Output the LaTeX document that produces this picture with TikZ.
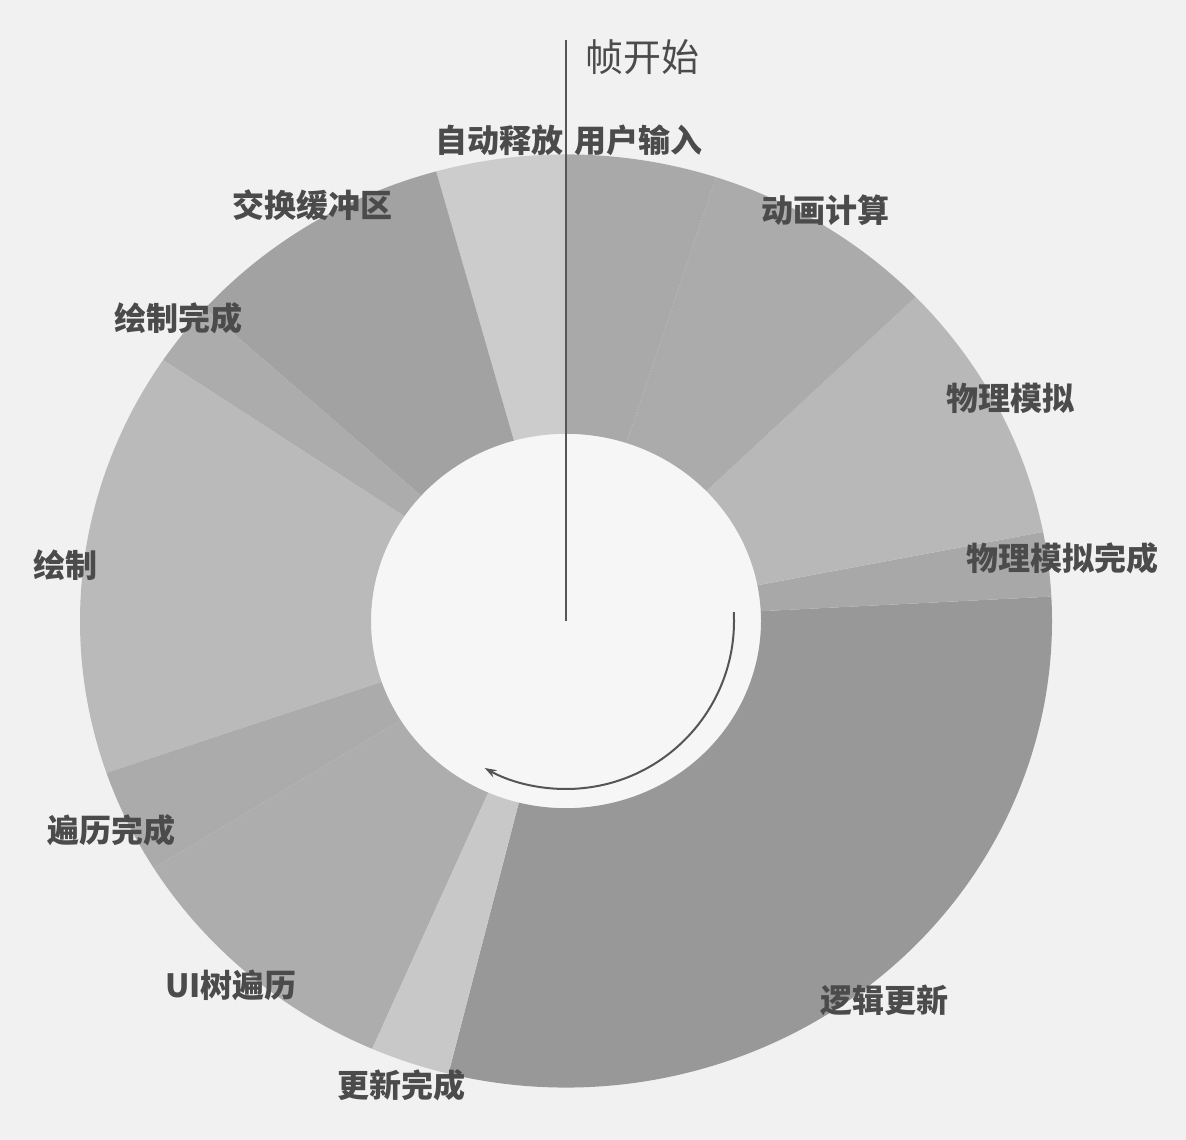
\documentclass[tikz,border=0pt]{standalone}
\usepackage{fontspec}
\setmainfont{Noto Sans CJK SC}
\usetikzlibrary{arrows.meta}
\definecolor{bgc}{RGB}{241,241,241}
\definecolor{holec}{RGB}{246,246,246}
\definecolor{labelc}{RGB}{75,75,75}
\definecolor{linec}{RGB}{85,85,85}
\definecolor{sLogic}{RGB}{152,152,152}
\definecolor{sPhysDone}{RGB}{168,168,168}
\definecolor{sPhys}{RGB}{184,184,184}
\definecolor{sAnim}{RGB}{171,171,171}
\definecolor{sInput}{RGB}{169,169,169}
\definecolor{sAuto}{RGB}{204,204,204}
\definecolor{sSwap}{RGB}{162,162,162}
\definecolor{sDrawDone}{RGB}{172,172,172}
\definecolor{sDraw}{RGB}{186,186,186}
\definecolor{sTravDone}{RGB}{171,171,171}
\definecolor{sTrav}{RGB}{173,173,173}
\definecolor{sUpdDone}{RGB}{200,200,200}
\begin{document}
\begin{tikzpicture}[x=1pt,y=1pt,
  lbl/.style={font=\bfseries\fontsize{32}{32}\selectfont, text=labelc, inner sep=0pt},
  title/.style={font=\fontsize{38}{38}\selectfont, text=labelc, inner sep=0pt},
  conn/.style={draw=linec, line width=2pt}]
\path[fill=bgc] (0,0) rectangle (1186,1140);
\coordinate (C) at (566,519);
\begin{scope}[shift={(C)}, yscale=0.96]
  \fill[holec] (0,0) circle[radius=195];
  \foreach \a/\b/\c in {-104/3/sLogic, 3/11/sPhysDone, 11/44/sPhys, 44/72/sAnim,
                        72/90/sInput, 90/105.5/sAuto, 105.5/138/sSwap, 138/146/sDrawDone,
                        146/199/sDraw, 199/212/sTravDone, 212/246.5/sTrav, 246.5/256/sUpdDone}
  {
    \fill[\c] (\a:486) arc[start angle=\a, end angle=\b, radius=486]
      -- (\b:195) arc[start angle=\b, end angle=\a, radius=195] -- cycle;
  }
\end{scope}
% frame start line
\coordinate (ftop) at (566,1100);
\draw[conn] (ftop) -- (C);
% direction arrow
\begin{scope}[shift={(C)}]
  \coordinate (aS) at (3:168);
\end{scope}
\draw[conn, -{Stealth[length=12pt,width=8pt]}] (aS) arc[start angle=3, end angle=-119, radius=168];
% labels
\node[title, anchor=west] (tStart) at (585,1083) {帧开始};
\node[lbl, anchor=east] (lAuto) at (564,1000) {自动释放};
\node[lbl, anchor=west] (lInput) at (574,1000) {用户输入};
\node[lbl] (lAnim) at (825,930) {动画计算};
\node[lbl] (lPhys) at (1010,742) {物理模拟};
\node[lbl] (lPhysDone) at (1062,582) {物理模拟完成};
\node[lbl] (lLogic) at (884,140) {逻辑更新};
\node[lbl] (lUpdDone) at (401,55) {更新完成};
\node[lbl] (lTrav) at (231,155) {UI树遍历};
\node[lbl] (lTravDone) at (111,310) {遍历完成};
\node[lbl] (lDraw) at (65,575) {绘制};
\node[lbl] (lDrawDone) at (178,822) {绘制完成};
\node[lbl] (lSwap) at (312,935) {交换缓冲区};
\end{tikzpicture}
\end{document}
